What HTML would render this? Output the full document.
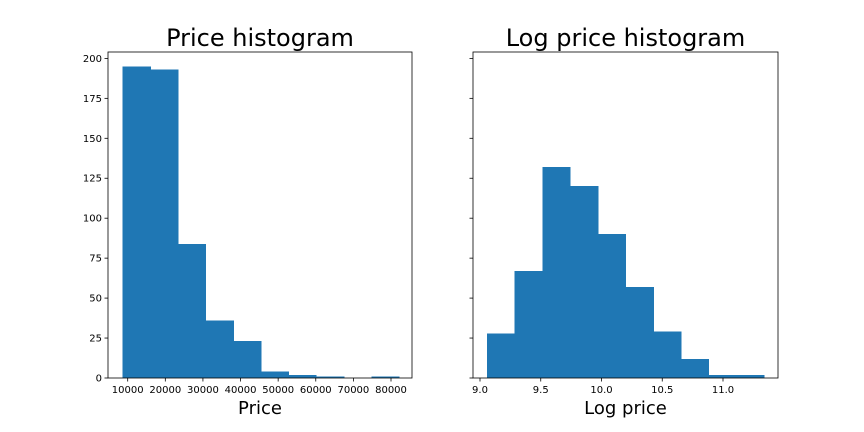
<!DOCTYPE html>
<html><head><meta charset="utf-8"><style>body{margin:0;background:#fff}svg{display:block;font-family:"DejaVu Sans","Liberation Sans",sans-serif}</style></head>
<body>
<svg id="c" width="864" height="432" xmlns="http://www.w3.org/2000/svg"></svg>
<script>
const priceCounts=[195,193,84,36,23,4,2,1,0,1];
const priceRange=[8674,82121];
const priceTicks=[10000,20000,30000,40000,50000,60000,70000,80000];
const logCounts=[28,67,132,120,90,57,29,12,2,2];
const logRange=[9.058,11.337];
const logTicks=[9.0,9.5,10.0,10.5,11.0];
const yTicks=[0,25,50,75,100,125,150,175,200];
const NS="http://www.w3.org/2000/svg";
const svg=document.getElementById('c');
function mk(t,a,p){const e=document.createElementNS(NS,t);for(const k in a)e.setAttribute(k,a[k]);(p||svg).appendChild(e);return e;}
const Y0=378,Ytop=52,ymax=204;
const y=v=>Y0-(v/ymax)*(Y0-Ytop);
function panel(name,x0,x1,dmin,dmax,counts,range,ticks,fmt,title,xlabel,showY){
  const g=mk('g',{});
  
  
  const x=v=>x0+(v-dmin)/(dmax-dmin)*(x1-x0);
  const w=(range[1]-range[0])/counts.length;
  counts.forEach((c,i)=>{
    const a=x(range[0]+i*w),b=x(range[0]+(i+1)*w);
    const r=mk('rect',{x:a,y:y(c),width:b-a+0.6,height:Y0-y(c),fill:'#1f77b4','shape-rendering':'crispEdges'},g);
    
    
  });
  const f=mk('rect',{x:x0,y:Ytop,width:x1-x0,height:Y0-Ytop,fill:'none',stroke:'#000','stroke-width':0.8},g);
  
  
  ticks.forEach(t=>{
    mk('line',{x1:x(t),x2:x(t),y1:Y0,y2:Y0+3.5,stroke:'#000','stroke-width':0.8},g);
    const tx=mk('text',{x:x(t),y:Y0+15,'font-size':10,'text-anchor':'middle'},g);
    tx.textContent=fmt(t);
    
    
  });
  yTicks.forEach(t=>{
    mk('line',{x1:x0,x2:x0-3.5,y1:y(t),y2:y(t),stroke:'#000','stroke-width':0.8},g);
    if(showY){const tx=mk('text',{x:x0-6,y:y(t)+3.5,'font-size':10,'text-anchor':'end'},g);
    tx.textContent=t;
    
    }
  });
  const tt=mk('text',{x:(x0+x1)/2,y:46,'font-size':24,'text-anchor':'middle'},g);
  tt.textContent=title;
  
  
  const xl=mk('text',{x:(x0+x1)/2,y:414,'font-size':18,'text-anchor':'middle'},g);
  xl.textContent=xlabel;
  
  
}
const ldmin=10000+(108-127.7)*70000/(391-127.7), ldmax=10000+(412-127.7)*70000/(391-127.7);
panel('price-histogram',108,412,ldmin,ldmax,priceCounts,priceRange,priceTicks,t=>String(t),'Price histogram','Price',true);
const rdmin=9+(473-480)*2/(723-480), rdmax=9+(778-480)*2/(723-480);
panel('log-price-histogram',473,778,rdmin,rdmax,logCounts,logRange,logTicks,t=>t.toFixed(1),'Log price histogram','Log price',false);
</script>
</body></html>
